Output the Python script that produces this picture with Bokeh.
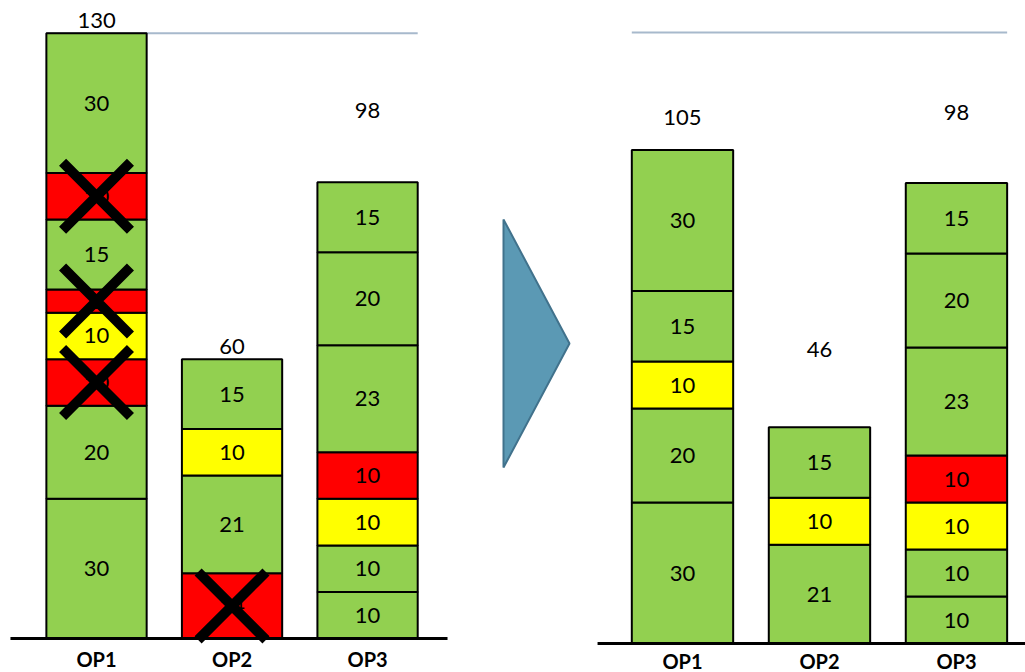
from bokeh.plotting import figure
from bokeh.models import Range1d, ColumnDataSource
from bokeh.layouts import row
from bokeh.embed import file_html
from bokeh.resources import INLINE
from bokeh.core.properties import value

# ---------------------------------------------------------------- data
operations = ["OP1", "OP2", "OP3"]

# Work content per operation, stacked bottom -> top
before_op1 = [30, 20, 10, 10, 5, 15, 10, 30]
before_op1_kind = ["ok", "ok", "waste", "warn", "waste", "ok", "waste", "ok"]
before_op1_removed = [0, 0, 1, 0, 1, 0, 1, 0]

before_op2 = [14, 21, 10, 15]
before_op2_kind = ["waste", "ok", "warn", "ok"]
before_op2_removed = [1, 0, 0, 0]

before_op3 = [10, 10, 10, 10, 23, 20, 15]
before_op3_kind = ["ok", "ok", "warn", "waste", "ok", "ok", "ok"]
before_op3_removed = [0, 0, 0, 0, 0, 0, 0]

after_op1 = [30, 20, 10, 15, 30]
after_op1_kind = ["ok", "ok", "warn", "ok", "ok"]

after_op2 = [21, 10, 15]
after_op2_kind = ["ok", "warn", "ok"]

after_op3 = [10, 10, 10, 10, 23, 20, 15]
after_op3_kind = ["ok", "ok", "warn", "waste", "ok", "ok", "ok"]

reference_level = 130

# ---------------------------------------------------------------- styling
KIND_COLORS = {"ok": "#92D050", "warn": "#FFFF00", "waste": "#FF0000"}
FONT = "Lato"
BAR_W = 0.74


def stack_panel(width, height, x_range, y_range, stacks, kinds, removed,
                total_lift, base_x, label_offset):
    p = figure(width=width, height=height, x_range=Range1d(*x_range),
               y_range=Range1d(*y_range), output_backend="svg",
               toolbar_location=None, x_axis_location=None,
               y_axis_location=None, min_border=0, outline_line_color=None)
    p.grid.visible = False
    p.background_fill_color = "white"

    # reference level line across the panel
    p.segment(x0=[1 - BAR_W / 2], x1=[3 + BAR_W / 2],
              y0=[reference_level], y1=[reference_level],
              line_color="#A7B9CC", line_width=2)

    xs, bottoms, tops, colors, mids, vals = [], [], [], [], [], []
    cross_x, cross_y = [], []
    for i, (segs, ks) in enumerate(zip(stacks, kinds)):
        x = i + 1
        acc = 0
        for j, (v, k) in enumerate(zip(segs, ks)):
            xs.append(x)
            bottoms.append(acc)
            tops.append(acc + v)
            colors.append(KIND_COLORS[k])
            mids.append(acc + v / 2)
            vals.append(str(v))
            if removed is not None and removed[i][j]:
                cross_x.append(x)
                cross_y.append(acc + v / 2)
            acc += v

    src = ColumnDataSource(dict(x=xs, bottom=bottoms, top=tops, color=colors,
                                mid=mids, label=vals))
    p.vbar(x="x", bottom="bottom", top="top", width=BAR_W, source=src,
           fill_color="color", line_color="black", line_width=2)
    p.text(x="x", y="mid", text="label", source=src, text_align="center",
           text_baseline="middle", text_font=value(FONT),
           text_font_size="22px", text_color="black")

    totals = [sum(s) for s in stacks]
    p.text(x=[1, 2, 3], y=totals, text=[str(t) for t in totals],
           y_offset=[-l for l in total_lift], text_align="center",
           text_baseline="middle", text_font=value(FONT),
           text_font_size="22px", text_color="black")

    if cross_x:
        p.scatter(x=cross_x, y=cross_y, marker="x", size=96,
                  line_color="black", line_width=10)

    # baseline
    p.segment(x0=[base_x[0]], x1=[base_x[1]], y0=[0], y1=[0],
              line_color="black", line_width=3)

    p.text(x=[1, 2, 3], y=[0, 0, 0], text=operations, y_offset=label_offset,
           text_align="center", text_baseline="middle",
           text_font=value(FONT), text_font_style="bold",
           text_font_size="20px", text_color="black")
    return p


H = 672

left = stack_panel(
    450, H, (0.2915, 3.612), (-34 / 4.655, 638 / 4.655),
    [before_op1, before_op2, before_op3],
    [before_op1_kind, before_op2_kind, before_op3_kind],
    [before_op1_removed, before_op2_removed, before_op3_removed],
    [13, 13, 72], (0.365, 3.59), 20)

right = stack_panel(
    450, H, (0.219, 3.504), (-29 / 4.7, 643 / 4.7),
    [after_op1, after_op2, after_op3],
    [after_op1_kind, after_op2_kind, after_op3_kind],
    None,
    [33, 78, 70], (0.38, 3.6), 17)

# transition arrow between the two states
mid = figure(width=125, height=H, x_range=Range1d(0, 125),
             y_range=Range1d(H, 0), output_backend="svg",
             toolbar_location=None, x_axis_location=None,
             y_axis_location=None, min_border=0, outline_line_color=None)
mid.grid.visible = False
mid.patch(x=[53, 119, 53], y=[219, 343, 467], fill_color="#5B99B4",
          line_color="#41728C", line_width=2)

layout = row(left, mid, right)
open("out.html", "w").write(file_html(layout, INLINE))
